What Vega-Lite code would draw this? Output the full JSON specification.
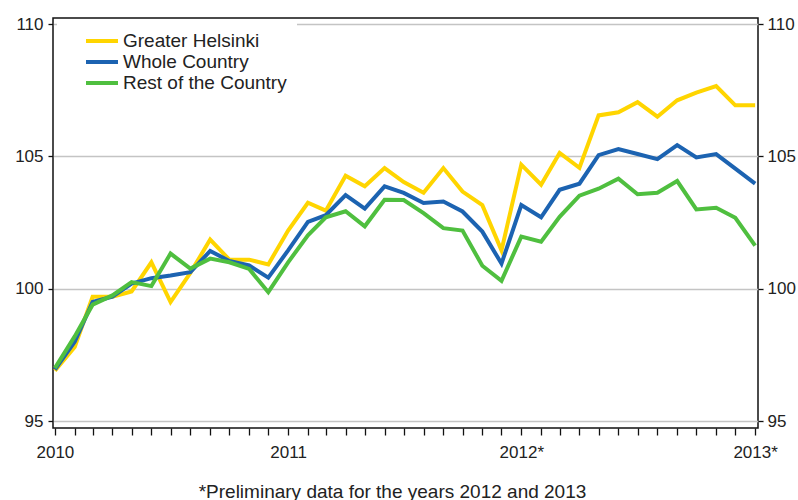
{
  "$schema": "https://vega.github.io/schema/vega-lite/v6.json",
  "width": 705,
  "height": 410,
  "autosize": {"type": "none"},
  "padding": {"left": 53, "top": 18, "right": 40, "bottom": 72},
  "background": "white",
  "config": {
    "view": {"stroke": "#111111", "strokeWidth": 1.5},
    "axis": {
      "labelFont": "Liberation Sans",
      "labelFontSize": 17,
      "labelColor": "#222222",
      "tickColor": "#111111",
      "tickWidth": 1.3,
      "domain": false,
      "titleFont": "Liberation Sans"
    },
    "legend": {
      "labelFont": "Liberation Sans",
      "labelFontSize": 19,
      "labelColor": "#222222"
    }
  },
  "data": {
    "values": [
      {"date": "2010-01-01", "Greater Helsinki": 96.9, "Whole Country": 96.95, "Rest of the Country": 97.0},
      {"date": "2010-02-01", "Greater Helsinki": 97.8, "Whole Country": 98.0, "Rest of the Country": 98.2},
      {"date": "2010-03-01", "Greater Helsinki": 99.7, "Whole Country": 99.5, "Rest of the Country": 99.4},
      {"date": "2010-04-01", "Greater Helsinki": 99.7, "Whole Country": 99.7, "Rest of the Country": 99.75},
      {"date": "2010-05-01", "Greater Helsinki": 99.9, "Whole Country": 100.2, "Rest of the Country": 100.25},
      {"date": "2010-06-01", "Greater Helsinki": 101.0, "Whole Country": 100.4, "Rest of the Country": 100.1},
      {"date": "2010-07-01", "Greater Helsinki": 99.5, "Whole Country": 100.5, "Rest of the Country": 101.33},
      {"date": "2010-08-01", "Greater Helsinki": 100.6, "Whole Country": 100.63, "Rest of the Country": 100.76},
      {"date": "2010-09-01", "Greater Helsinki": 101.86, "Whole Country": 101.43, "Rest of the Country": 101.14},
      {"date": "2010-10-01", "Greater Helsinki": 101.1, "Whole Country": 101.05, "Rest of the Country": 101.0},
      {"date": "2010-11-01", "Greater Helsinki": 101.1, "Whole Country": 100.88, "Rest of the Country": 100.75},
      {"date": "2010-12-01", "Greater Helsinki": 100.92, "Whole Country": 100.42, "Rest of the Country": 99.87},
      {"date": "2011-01-01", "Greater Helsinki": 102.2, "Whole Country": 101.45, "Rest of the Country": 101.0},
      {"date": "2011-02-01", "Greater Helsinki": 103.25, "Whole Country": 102.53, "Rest of the Country": 102.02},
      {"date": "2011-03-01", "Greater Helsinki": 102.95, "Whole Country": 102.78, "Rest of the Country": 102.7},
      {"date": "2011-04-01", "Greater Helsinki": 104.27, "Whole Country": 103.54, "Rest of the Country": 102.93},
      {"date": "2011-05-01", "Greater Helsinki": 103.87, "Whole Country": 103.03, "Rest of the Country": 102.36},
      {"date": "2011-06-01", "Greater Helsinki": 104.56, "Whole Country": 103.87, "Rest of the Country": 103.36},
      {"date": "2011-07-01", "Greater Helsinki": 104.03, "Whole Country": 103.62, "Rest of the Country": 103.35},
      {"date": "2011-08-01", "Greater Helsinki": 103.63, "Whole Country": 103.24, "Rest of the Country": 102.86},
      {"date": "2011-09-01", "Greater Helsinki": 104.56, "Whole Country": 103.3, "Rest of the Country": 102.29},
      {"date": "2011-10-01", "Greater Helsinki": 103.67, "Whole Country": 102.92, "Rest of the Country": 102.2},
      {"date": "2011-11-01", "Greater Helsinki": 103.16, "Whole Country": 102.16, "Rest of the Country": 100.87},
      {"date": "2011-12-01", "Greater Helsinki": 101.45, "Whole Country": 100.95, "Rest of the Country": 100.3},
      {"date": "2012-01-01", "Greater Helsinki": 104.69, "Whole Country": 103.16, "Rest of the Country": 101.97},
      {"date": "2012-02-01", "Greater Helsinki": 103.93, "Whole Country": 102.7, "Rest of the Country": 101.78},
      {"date": "2012-03-01", "Greater Helsinki": 105.13, "Whole Country": 103.74, "Rest of the Country": 102.72},
      {"date": "2012-04-01", "Greater Helsinki": 104.57, "Whole Country": 103.97, "Rest of the Country": 103.52},
      {"date": "2012-05-01", "Greater Helsinki": 106.55, "Whole Country": 105.05, "Rest of the Country": 103.78},
      {"date": "2012-06-01", "Greater Helsinki": 106.67, "Whole Country": 105.28, "Rest of the Country": 104.16},
      {"date": "2012-07-01", "Greater Helsinki": 107.05, "Whole Country": 105.09, "Rest of the Country": 103.57},
      {"date": "2012-08-01", "Greater Helsinki": 106.5, "Whole Country": 104.9, "Rest of the Country": 103.63},
      {"date": "2012-09-01", "Greater Helsinki": 107.12, "Whole Country": 105.43, "Rest of the Country": 104.07},
      {"date": "2012-10-01", "Greater Helsinki": 107.41, "Whole Country": 104.96, "Rest of the Country": 103.0},
      {"date": "2012-11-01", "Greater Helsinki": 107.66, "Whole Country": 105.09, "Rest of the Country": 103.06},
      {"date": "2012-12-01", "Greater Helsinki": 106.93, "Whole Country": 104.54, "Rest of the Country": 102.68},
      {"date": "2013-01-01", "Greater Helsinki": 106.93, "Whole Country": 103.97, "Rest of the Country": 101.63}
    ]
  },
  "transform": [
    {"fold": ["Greater Helsinki", "Whole Country", "Rest of the Country"], "as": ["series", "value"]}
  ],
  "encoding": {
    "x": {
      "field": "date",
      "type": "temporal",
      "scale": {
        "type": "utc",
        "domain": [
          {"year": 2009, "month": 12, "date": 29, "utc": true},
          {"year": 2013, "month": 1, "date": 5, "hours": 12, "utc": true}
        ]
      },
      "axis": {
        "title": "*Preliminary data for the years 2012 and 2013",
        "titleFont": "Liberation Sans",
        "titleFontSize": 19,
        "titleFontWeight": "normal",
        "titleColor": "#222222",
        "titleX": 339,
        "titleY": 69,
        "titleAlign": "center",
        "titleAnchor": null,
        "titleBaseline": "alphabetic",
        "tickCount": {"interval": "month", "step": 1},
        "tickSize": 7,
        "labelPadding": 9,
        "labelFontSize": 17,
        "labelOverlap": false,
        "labelFlush": false,
        "labelExpr": "utcmonth(datum.value) == 0 ? (utcyear(datum.value) + (utcyear(datum.value) >= 2012 ? '*' : '')) : ''",
        "grid": false
      }
    }
  },
  "layer": [
    {
      "mark": {"type": "line", "strokeWidth": 4, "strokeJoin": "miter"},
      "encoding": {
        "y": {
          "field": "value",
          "type": "quantitative",
          "scale": {"domain": [94.74, 110.23], "nice": false, "zero": false},
          "axis": {
            "orient": "left",
            "title": null,
            "values": [95, 100, 105, 110],
            "tickSize": 5,
            "labelPadding": 5,
            "grid": true,
            "gridColor": "#C4C4C4",
            "gridWidth": 1.5
          }
        },
        "color": {
          "field": "series",
          "type": "nominal",
          "scale": {
            "domain": ["Greater Helsinki", "Whole Country", "Rest of the Country"],
            "range": ["#FFD500", "#1C63B1", "#4FBF3F"]
          },
          "legend": {
            "title": null,
            "orient": "none",
            "legendX": 4,
            "legendY": 3,
            "fillColor": "white",
            "padding": 10,
            "symbolType": "M-2,0H2",
            "symbolSize": 256,
            "symbolStrokeWidth": 4,
            "symbolOffset": 25,
            "labelOffset": 11,
            "labelLimit": 400,
            "rowPadding": 1
          }
        }
      }
    },
    {
      "mark": {"type": "line", "opacity": 0},
      "encoding": {
        "y": {
          "field": "value",
          "type": "quantitative",
          "scale": {"domain": [94.74, 110.23], "nice": false, "zero": false},
          "axis": {
            "orient": "right",
            "title": null,
            "values": [95, 100, 105, 110],
            "tickSize": 5,
            "labelPadding": 4,
            "grid": false
          }
        },
        "detail": {"field": "series", "type": "nominal"}
      }
    }
  ],
  "resolve": {"axis": {"y": "independent"}}
}
